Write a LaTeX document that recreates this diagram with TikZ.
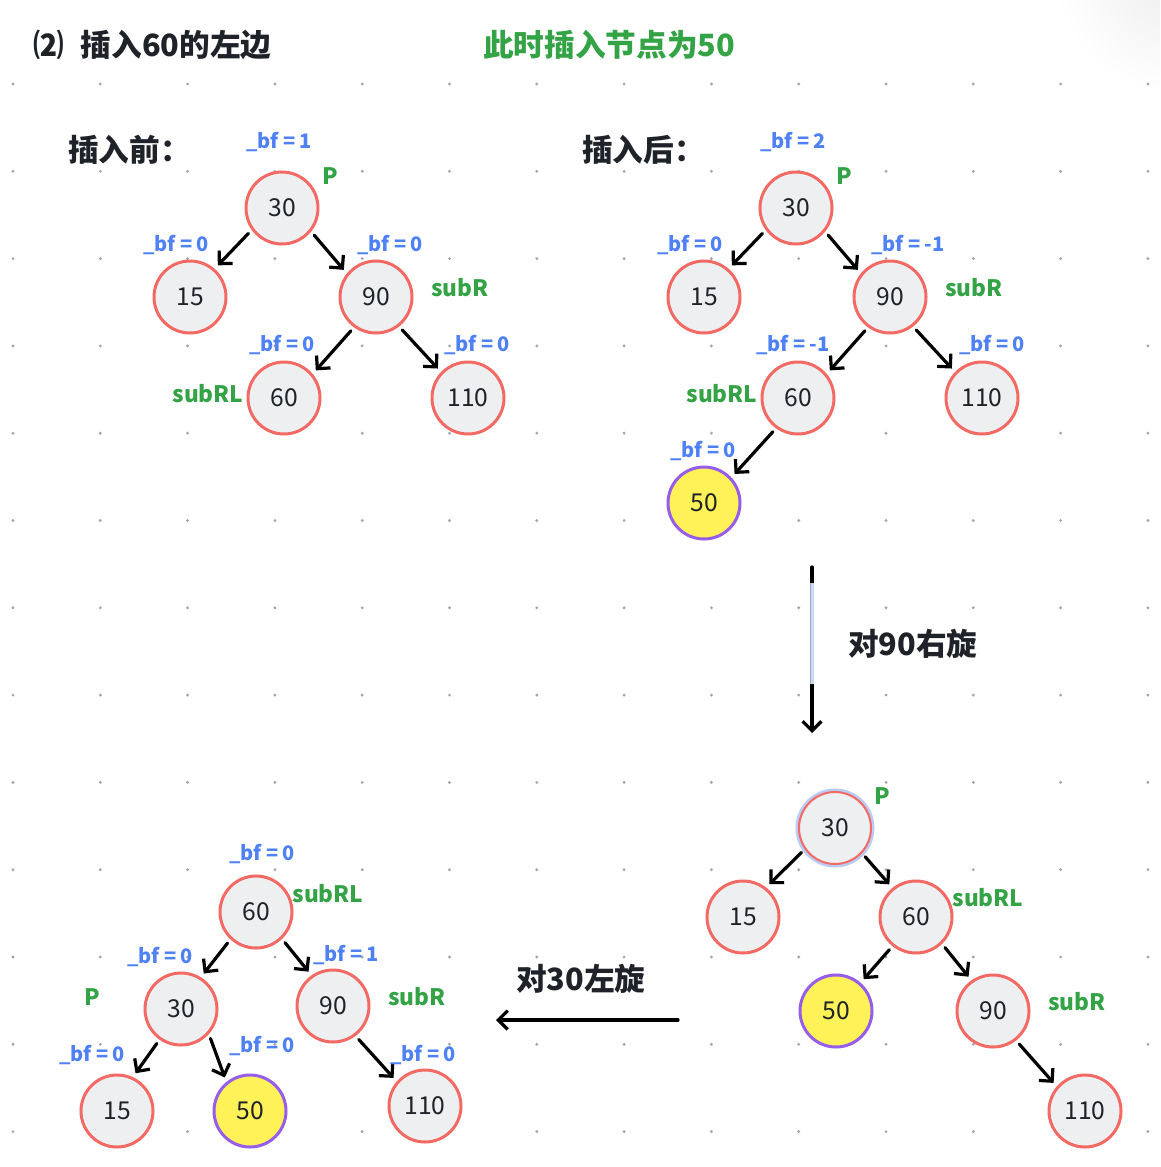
\documentclass[tikz,border=0pt]{standalone}
\usepackage{fontspec}
\setmainfont{Noto Sans CJK SC}
\usetikzlibrary{arrows.meta}
\definecolor{nodefill}{HTML}{EEEFF1}
\definecolor{nodered}{HTML}{F26A63}
\definecolor{yel}{HTML}{FFF158}
\definecolor{purp}{HTML}{965DEB}
\definecolor{bfblue}{HTML}{4E80F6}
\definecolor{grn}{HTML}{33A346}
\definecolor{ink}{HTML}{1F2329}
\definecolor{dotc}{HTML}{A3A6AE}
\definecolor{halo}{HTML}{B9CCF6}
\definecolor{hilite}{HTML}{C9D7FB}
\tikzset{
 tn/.style={circle, draw=nodered, fill=nodefill, line width=2.25pt, minimum size=54pt, inner sep=0pt, font=\fontsize{18.5}{18}\selectfont, text=ink},
 yn/.style={tn, draw=purp, fill=yel},
 bfl/.style={font=\bfseries\fontsize{15}{16}\selectfont, text=bfblue, inner sep=0pt},
 gl/.style={font=\bfseries\fontsize{17}{18}\selectfont, text=grn, inner sep=0pt},
 ttl/.style={font=\bfseries\fontsize{23}{24}\selectfont, text=ink, inner sep=0pt, anchor=west},
 tip/.style={-{Straight Barb[length=7pt,width=14pt]}},
 arr/.style={line width=2.4pt, line cap=round, line join=round, tip, shorten <=3.5pt, shorten >=3.5pt},
 bigarr/.style={line width=2.5pt, line cap=round, line join=round, tip}
}
\newcommand{\bfeq}[1]{\_bf = #1}
\begin{document}
\begin{tikzpicture}[x=0.75pt,y=-0.75pt]
\useasboundingbox[fill=white] (0,0) rectangle (1160,1167);
% faint shadow at top right corner
\begin{scope}
\clip (1040,0) rectangle (1160,90);
\shade[inner color=black!7, outer color=white] (1175,-25) circle[radius=120];
\end{scope}
% grid dots
\foreach \i in {0,...,13}{
 \foreach \j in {0,...,12}{
  \fill[dotc] ({13+87.3*\i},{84+87.3*\j}) circle[radius=1.6];
 }
}
% titles
\node[ttl] (t1) at (33,45) {⑵\hspace{0.55em}插入60的左边};
\node[ttl, text=grn] (t2) at (483,45) {此时插入节点为50};
\node[ttl] (h1) at (68,150) {插入前：};
\node[ttl] (h2) at (582,150) {插入后：};

% ---------- before ----------
\node[tn] (a30) at (282,208) {30};
\node[tn] (a15) at (190,297) {15};
\node[tn] (a90) at (376,297) {90};
\node[tn] (a60) at (284,398) {60};
\node[tn] (a110) at (468,398) {110};
\draw[arr] (a30.216) -- (a15.49);
\draw[arr] (a30.321) -- (a90.141);
\draw[arr] (a90.234) -- (a60.40);
\draw[arr] (a90.308) -- (a110.136);
\node[bfl] (la1) at (279,142) {\bfeq{1}};
\node[bfl] (la2) at (176,245) {\bfeq{0}};
\node[bfl] (la3) at (390,245) {\bfeq{0}};
\node[bfl] (la4) at (282,345) {\bfeq{0}};
\node[bfl] (la5) at (477,345) {\bfeq{0}};
\node[gl] (ga1) at (330,176) {P};
\node[gl] (ga2) at (460,288) {subR};
\node[gl] (ga3) at (208,394) {subRL};

% ---------- after ----------
\node[tn] (b30) at (796,208) {30};
\node[tn] (b15) at (704,297) {15};
\node[tn] (b90) at (890,297) {90};
\node[tn] (b60) at (798,398) {60};
\node[tn] (b110) at (982,398) {110};
\node[yn] (b50) at (704,503) {50};
\draw[arr] (b30.216) -- (b15.49);
\draw[arr] (b30.321) -- (b90.141);
\draw[arr] (b90.234) -- (b60.40);
\draw[arr] (b90.308) -- (b110.136);
\draw[arr] (b60.234) -- (b50.43);
\node[bfl] (lb1) at (793,142) {\bfeq{2}};
\node[bfl] (lb2) at (690,245) {\bfeq{0}};
\node[bfl] (lb3) at (908,245) {\bfeq{-1}};
\node[bfl] (lb4) at (793,345) {\bfeq{-1}};
\node[bfl] (lb5) at (992,345) {\bfeq{0}};
\node[bfl] (lb6) at (703,451) {\bfeq{0}};
\node[gl] (gb1) at (844,176) {P};
\node[gl] (gb2) at (974,288) {subR};
\node[gl] (gb3) at (722,394) {subRL};

% ---------- vertical arrow ----------
\coordinate (v1) at (812,567);
\coordinate (v2) at (812,733);
\draw[bigarr] (v1) -- (v2);
\fill[gray!70] (809.5,583) rectangle (814,684);
\fill[hilite] (810.8,583) rectangle (814,684);
\node[ttl] (r1) at (848,644) {对90右旋};

% ---------- after right rotation ----------
\draw[halo, line width=3pt] (835,828) circle[radius=37.5];
\node[tn, line width=1.5pt] (c30) at (835,828) {30};
\node[tn] (c15) at (743,917) {15};
\node[tn] (c60) at (916,917) {60};
\node[yn] (c50) at (836,1011) {50};
\node[tn] (c90) at (993,1011) {90};
\node[tn] (c110) at (1085,1111) {110};
\draw[arr] (c30.215) -- (c15.52);
\draw[arr] (c30.317) -- (c60.129);
\draw[arr] (c60.231) -- (c50.49);
\draw[arr] (c60.314) -- (c90.125);
\draw[arr] (c90.308) -- (c110.139);
\node[gl] (gc1) at (882,796) {P};
\node[gl] (gc2) at (988,898) {subRL};
\node[gl] (gc3) at (1077,1002) {subR};

% ---------- horizontal arrow ----------
\coordinate (w1) at (678,1020);
\coordinate (w2) at (496,1020);
\draw[bigarr] (w1) -- (w2);
\node[ttl] (r2) at (516,979) {对30左旋};

% ---------- after left rotation ----------
\node[tn] (d60) at (256,912) {60};
\node[tn] (d30) at (181,1009) {30};
\node[tn] (d90) at (333,1006) {90};
\node[tn] (d15) at (117,1111) {15};
\node[yn] (d50) at (250,1111) {50};
\node[tn] (d110) at (425,1106) {110};
\draw[arr] (d60.227) -- (d30.58);
\draw[arr] (d60.314) -- (d90.125);
\draw[arr] (d30.235) -- (d15.65);
\draw[arr] (d30.318) -- (d50.129);
\draw[arr] (d90.307) -- (d110.139);
\node[bfl] (ld1) at (262,854) {\bfeq{0}};
\node[bfl] (ld2) at (160,957) {\bfeq{0}};
\node[bfl] (ld3) at (346,955) {\bfeq{1}};
\node[bfl] (ld4) at (92,1055) {\bfeq{0}};
\node[bfl] (ld5) at (262,1046) {\bfeq{0}};
\node[bfl] (ld6) at (423,1055) {\bfeq{0}};
\node[gl] (gd1) at (92,997) {P};
\node[gl] (gd2) at (328,894) {subRL};
\node[gl] (gd3) at (417,997) {subR};
\end{tikzpicture}
\end{document}
